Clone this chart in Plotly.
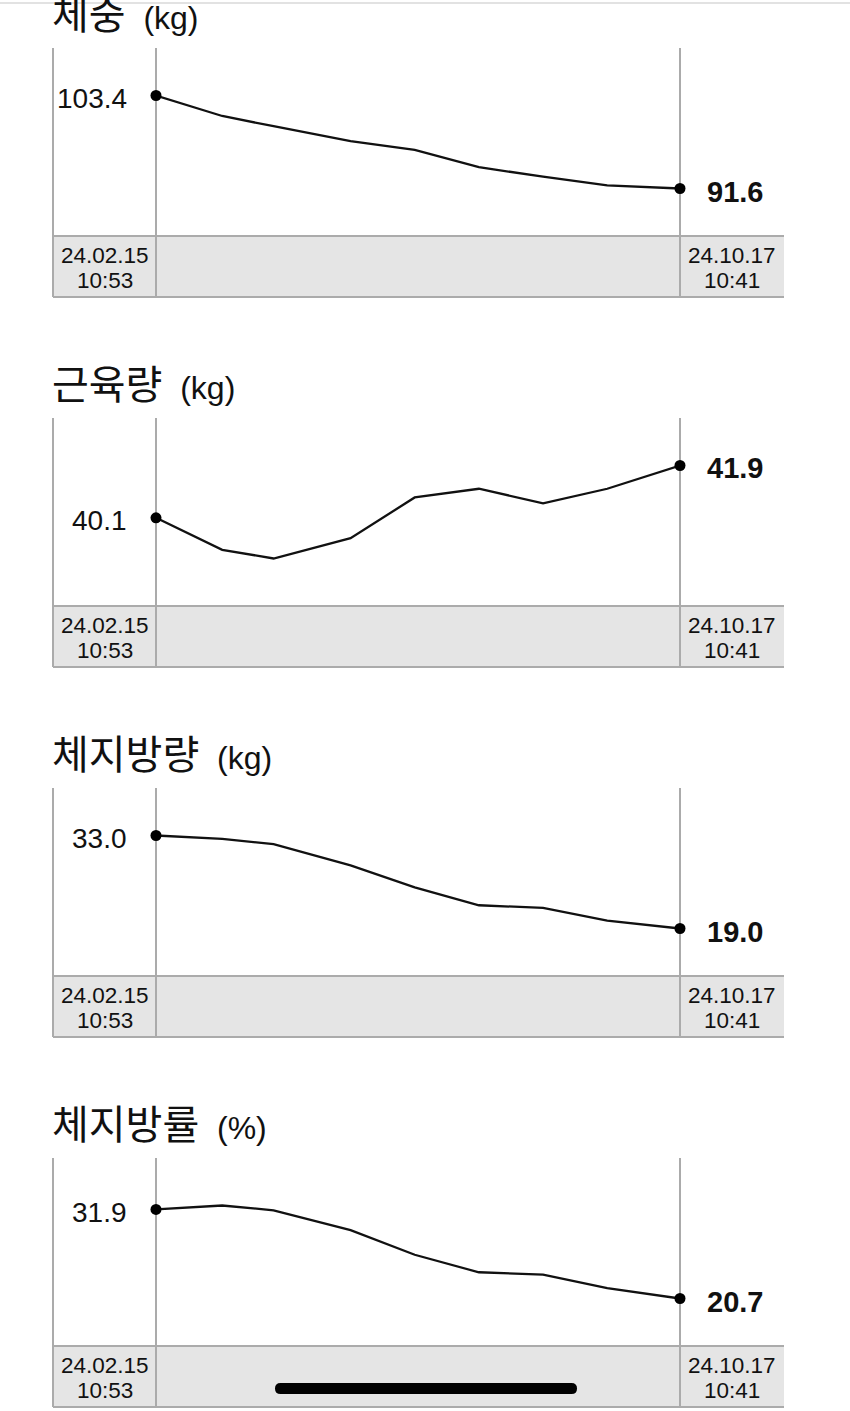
import plotly.graph_objects as go

# ---------------- data ----------------
dates = ["2024-02-15 10:53", "2024-03-17 10:00", "2024-04-10 10:00", "2024-05-16 10:00",
         "2024-06-15 10:00", "2024-07-15 10:00", "2024-08-14 10:00", "2024-09-13 10:00",
         "2024-10-17 10:41"]
start_day, start_time = "24.02.15", "10:53"
end_day, end_time = "24.10.17", "10:41"

titles = ["체중", "근육량", "체지방량", "체지방률"]
units = ["(kg)", "(kg)", "(kg)", "(%)"]

weight = [103.4, 100.8, 99.5, 97.6, 96.5, 94.3, 93.1, 92.0, 91.6]
muscle = [40.1, 39.0, 38.7, 39.4, 40.8, 41.1, 40.6, 41.1, 41.9]
fat_mass = [33.0, 32.5, 31.7, 28.5, 25.2, 22.5, 22.1, 20.2, 19.0]
fat_pct = [31.9, 32.4, 31.8, 29.3, 26.2, 24.0, 23.7, 22.0, 20.7]

series = [weight, muscle, fat_mass, fat_pct]

# ---------------- layout helpers ----------------
W, H = 850, 1411
def px(x):
    return x / W
def py(y):
    return 1 - y / H

BOX_L, IN_L, IN_R, BOX_R = 53, 156, 680, 784
tops = [48, 418, 788, 1158]
PLOT_H = 188
BAND_H = 61
LINE_C = "#ababab"
BAND_C = "#e5e5e5"
TXT_C = "#111111"

fig = go.Figure()
shapes = []
annotations = []
layout_axes = {}

def date_label(xc, yc, text):
    annotations.append(dict(
        xref="paper", yref="paper", x=px(xc), y=py(yc),
        xanchor="center", yanchor="middle", showarrow=False, text=text,
        font=dict(family="Liberation Sans, Arial", size=22.5, color=TXT_C)))

for i, vals in enumerate(series):
    n = i + 1
    xa = "x" if n == 1 else f"x{n}"
    ya = "y" if n == 1 else f"y{n}"
    top = tops[i]
    band_top = top + PLOT_H
    band_bot = band_top + BAND_H

    vmin, vmax = min(vals), max(vals)
    pad = (vmax - vmin) * 47.5 / 93.0

    fig.add_trace(go.Scatter(
        x=dates, y=vals, mode="lines", xaxis=xa, yaxis=ya,
        line=dict(color=TXT_C, width=2.3), showlegend=False,
        hoverinfo="skip", cliponaxis=False))
    fig.add_trace(go.Scatter(
        x=[dates[0], dates[-1]], y=[vals[0], vals[-1]], mode="markers",
        xaxis=xa, yaxis=ya, marker=dict(color="#000000", size=11),
        showlegend=False, hoverinfo="skip", cliponaxis=False))

    xkey = "xaxis" if n == 1 else f"xaxis{n}"
    ykey = "yaxis" if n == 1 else f"yaxis{n}"
    layout_axes[xkey] = dict(domain=[px(IN_L), px(IN_R)], range=[dates[0], dates[-1]],
                             type="date", visible=False, anchor=ya, fixedrange=True)
    layout_axes[ykey] = dict(domain=[py(band_top), py(top)], range=[vmin - pad, vmax + pad],
                             visible=False, anchor=xa, fixedrange=True)

    # band
    shapes.append(dict(type="rect", xref="paper", yref="paper",
                       x0=px(BOX_L), x1=px(BOX_R), y0=py(band_bot), y1=py(band_top),
                       fillcolor=BAND_C, line=dict(width=0), layer="below"))
    for yy in (band_top, band_bot):
        shapes.append(dict(type="line", xref="paper", yref="paper",
                           x0=px(BOX_L), x1=px(BOX_R), y0=py(yy), y1=py(yy),
                           line=dict(color=LINE_C, width=2), layer="below"))
    for xx in (BOX_L, IN_L, IN_R):
        shapes.append(dict(type="line", xref="paper", yref="paper",
                           x0=px(xx), x1=px(xx), y0=py(band_bot), y1=py(top),
                           line=dict(color=LINE_C, width=2), layer="below"))

    # title
    annotations.append(dict(
        xref="paper", yref="paper", x=px(BOX_L - 3), y=py(top - 36),
        xanchor="left", yanchor="middle", showarrow=False,
        text=(f"<span style='font-family:\"Noto Sans CJK KR\";font-size:40px'>{titles[i]}</span>"
              f"&nbsp;&nbsp;<span style='font-size:32px'>{units[i]}</span>"),
        font=dict(family="Liberation Sans, Arial", size=32, color=TXT_C)))

    # value labels
    annotations.append(dict(
        xref=xa, yref=ya, x=dates[0], y=vals[0], xanchor="right", yanchor="middle",
        xshift=-(IN_L - 129), yshift=-3, showarrow=False, text=f"{vals[0]:.1f}",
        font=dict(family="Liberation Sans, Arial", size=28, color=TXT_C)))
    annotations.append(dict(
        xref=xa, yref=ya, x=dates[-1], y=vals[-1], xanchor="left", yanchor="middle",
        xshift=705 - IN_R, yshift=-3, showarrow=False, text=f"<b>{vals[-1]:.1f}</b>",
        font=dict(family="Liberation Sans, Arial", size=29, color=TXT_C)))

    # date labels
    lx = (BOX_L + IN_L) / 2
    rx = (IN_R + BOX_R) / 2
    date_label(lx, band_top + 19, start_day)
    date_label(lx, band_top + 44, start_time)
    date_label(rx, band_top + 19, end_day)
    date_label(rx, band_top + 44, end_time)

# top header separator
shapes.append(dict(type="line", xref="paper", yref="paper", x0=0, x1=1, y0=py(3), y1=py(3),
                   line=dict(color="#e2e2e2", width=2), layer="below"))

# home indicator bar
x0, x1, y0, y1 = 275, 577, 1383, 1394
r = (y1 - y0) / 2
ym = (y0 + y1) / 2
path = (f"M {px(x0 + r)} {py(y0)} L {px(x1 - r)} {py(y0)} "
        f"Q {px(x1)} {py(y0)} {px(x1)} {py(ym)} Q {px(x1)} {py(y1)} {px(x1 - r)} {py(y1)} "
        f"L {px(x0 + r)} {py(y1)} Q {px(x0)} {py(y1)} {px(x0)} {py(ym)} "
        f"Q {px(x0)} {py(y0)} {px(x0 + r)} {py(y0)} Z")
shapes.append(dict(type="path", xref="paper", yref="paper", path=path,
                   fillcolor="#000000", line=dict(width=0), layer="above"))

fig.update_layout(
    width=W, height=H, margin=dict(l=0, r=0, t=0, b=0),
    paper_bgcolor="white", plot_bgcolor="rgba(0,0,0,0)",
    shapes=shapes, annotations=annotations, showlegend=False,
    **layout_axes)

fig.write_html("out.html", config={"displayModeBar": False})
